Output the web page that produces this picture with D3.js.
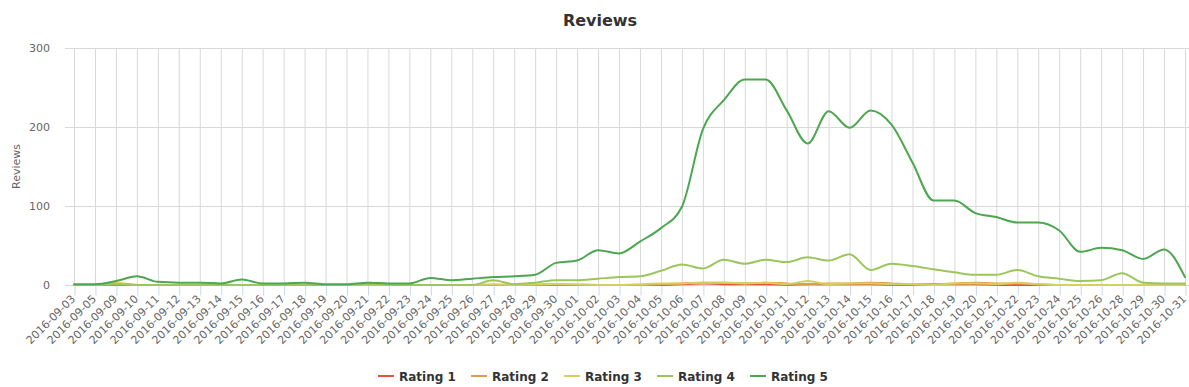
<!DOCTYPE html>
<html>
<head>
<meta charset="utf-8">
<script src="https://cdn.jsdelivr.net/npm/d3@7"></script>
<style>
  body { margin: 0; background: #fff; }
  svg { display: block; font-family: "DejaVu Sans", "Lucida Grande", sans-serif; }
</style>
</head>
<body>
<div id="chart"></div>
<script>
// categories (x axis)
const dates = [
  '2016-09-03','2016-09-05','2016-09-09','2016-09-10','2016-09-11','2016-09-12','2016-09-13',
  '2016-09-14','2016-09-15','2016-09-16','2016-09-17','2016-09-18','2016-09-19','2016-09-20',
  '2016-09-21','2016-09-22','2016-09-23','2016-09-24','2016-09-25','2016-09-26','2016-09-27',
  '2016-09-28','2016-09-29','2016-09-30','2016-10-01','2016-10-02','2016-10-03','2016-10-04',
  '2016-10-05','2016-10-06','2016-10-07','2016-10-08','2016-10-09','2016-10-10','2016-10-11',
  '2016-10-12','2016-10-13','2016-10-14','2016-10-15','2016-10-16','2016-10-17','2016-10-18',
  '2016-10-19','2016-10-20','2016-10-21','2016-10-22','2016-10-23','2016-10-24','2016-10-25',
  '2016-10-26','2016-10-28','2016-10-29','2016-10-30','2016-10-31'
];

// review counts per rating, one value per date
const rating1 = [0,0,0,0,0,0,0,0,0,0,0,0,0,0,0,0,0,0,0,0,0,0,0,0,0,0,0,0,0,1,2,1,1,1,0,1,1,1,1,0,0,1,1,1,0,0,0,0,0,0,0,0,0,0];
const rating2 = [0,0,1,0,0,0,0,0,0,0,0,0,0,0,0,0,0,0,0,0,0,0,0,1,0,0,0,0,1,2,3,3,2,3,2,1,2,2,3,2,1,1,2,3,2,2,1,0,0,0,0,0,0,0];
const rating3 = [0,0,3,0,0,0,0,0,0,0,0,0,0,0,0,0,0,0,0,0,1,0,1,1,1,0,0,1,2,2,3,3,2,3,1,5,1,2,2,1,1,0,2,2,1,3,1,0,0,0,0,0,0,0];
const rating4 = [0,0,1,0,0,0,0,0,0,0,0,0,0,0,1,0,0,0,0,0,6,1,3,6,6,8,10,11,18,26,21,32,27,32,29,35,31,39,19,27,24,20,16,13,13,19,11,8,5,6,15,3,2,2];
const rating5 = [1,1,5,11,4,3,3,2,7,2,2,3,1,1,3,2,2,9,6,8,10,11,13,28,31,44,40,55,72,99,197,234,260,260,221,179,220,199,221,203,155,107,107,91,86,79,79,69,42,47,44,33,45,10];

const seriesNames = ['Rating 1','Rating 2','Rating 3','Rating 4','Rating 5'];
const seriesColors = ['#e5533f','#e39c4f','#d5d05b','#9cc65b','#4ca750'];
const yTicks = [0,100,200,300];

const width = 1189, height = 387;
const plotLeft = 65, plotRight = 1189, plotTop = 48, plotBottom = 285;

const svg = d3.select('#chart').append('svg')
    .attr('width', width)
    .attr('height', height);

const xScale = d3.scalePoint()
    .domain(dates)
    .range([74, 1185]);

const yScale = d3.scaleLinear()
    .domain([0, 300])
    .range([plotBottom, plotTop]);

// grid lines
svg.append('g')
    .selectAll('line')
    .data(dates)
    .join('line')
    .attr('x1', d => xScale(d) + 0.5)
    .attr('x2', d => xScale(d) + 0.5)
    .attr('y1', plotTop)
    .attr('y2', plotBottom)
    .attr('stroke', '#d8d8d8')
    .attr('stroke-width', 1);

svg.append('g')
    .selectAll('line')
    .data(yTicks)
    .join('line')
    .attr('x1', plotLeft)
    .attr('x2', plotRight)
    .attr('y1', d => Math.round(yScale(d)) + 0.5)
    .attr('y2', d => Math.round(yScale(d)) + 0.5)
    .attr('stroke', '#d8d8d8')
    .attr('stroke-width', 1);

// x axis line + ticks
const xAxis = svg.append('g')
    .attr('transform', `translate(0.5,${plotBottom + 0.5})`)
    .call(d3.axisBottom(xScale).tickSize(10).tickSizeOuter(0));
xAxis.select('.domain')
    .attr('stroke', '#ccd6eb')
    .attr('d', `M${plotLeft},0H${plotRight}`);
xAxis.selectAll('.tick line').attr('stroke', '#ccd6eb');
xAxis.selectAll('.tick text')
    .attr('fill', '#666')
    .attr('font-size', 11)
    .attr('font-family', '"DejaVu Sans", sans-serif')
    .attr('text-anchor', 'end')
    .attr('dy', null)
    .attr('y', 0)
    .attr('transform', 'translate(1,14) rotate(-45)');

// y axis labels
const yAxis = svg.append('g')
    .attr('transform', `translate(${plotLeft},0)`)
    .call(d3.axisLeft(yScale).tickValues(yTicks).tickSize(0).tickPadding(15));
yAxis.select('.domain').remove();
yAxis.selectAll('.tick text')
    .attr('fill', '#666')
    .attr('font-size', 11)
    .attr('font-family', '"DejaVu Sans", sans-serif');

// lines
const line = d3.line()
    .x((d, i) => xScale(dates[i]))
    .y(d => yScale(d))
    .curve(d3.curveMonotoneX);

const allSeries = [rating1, rating2, rating3, rating4, rating5];
svg.append('g')
    .selectAll('path')
    .data(allSeries)
    .join('path')
    .attr('d', d => line(d))
    .attr('fill', 'none')
    .attr('stroke', (d, i) => seriesColors[i])
    .attr('stroke-width', 2)
    .attr('stroke-linejoin', 'round')
    .attr('stroke-linecap', 'round');

// titles
svg.append('text')
    .attr('x', 600)
    .attr('y', 26)
    .attr('text-anchor', 'middle')
    .attr('font-size', 16)
    .attr('font-weight', 'bold')
    .attr('fill', '#333')
    .text('Reviews');

svg.append('text')
    .attr('transform', `translate(20,${(plotTop + plotBottom) / 2}) rotate(-90)`)
    .attr('text-anchor', 'middle')
    .attr('font-size', 11)
    .attr('fill', '#666')
    .text('Reviews');

// legend
const legend = svg.append('g')
    .selectAll('g')
    .data(seriesNames)
    .join('g')
    .attr('transform', (d, i) => `translate(${378 + i * 93},376)`);
legend.append('line')
    .attr('x1', 0).attr('x2', 16)
    .attr('y1', 0).attr('y2', 0)
    .attr('stroke', (d, i) => seriesColors[i])
    .attr('stroke-width', 2);
legend.append('text')
    .attr('x', 21)
    .attr('y', 4.5)
    .attr('font-size', 12)
    .attr('font-weight', 'bold')
    .attr('fill', '#333')
    .text(d => d);
</script>
</body>
</html>
